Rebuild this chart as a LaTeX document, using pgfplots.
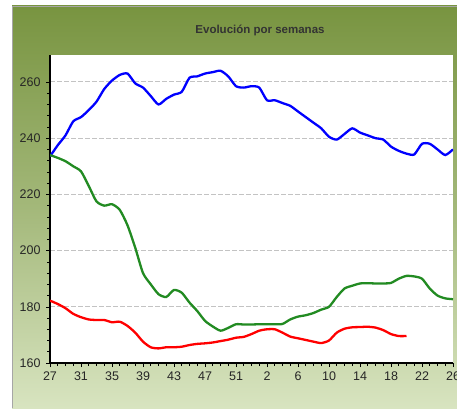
\documentclass[border=0pt]{standalone}
\usepackage{fontspec}
\setmainfont{Liberation Sans}
\usepackage{pgfplots}
\pgfplotsset{compat=1.18}
\definecolor{paneltop}{RGB}{120,148,64}
\definecolor{panelbot}{RGB}{216,228,192}
\definecolor{gridgray}{RGB}{195,195,195}
\definecolor{lgreen}{RGB}{34,139,34}
\begin{document}
\begin{tikzpicture}[x=1pt,y=1pt]
\useasboundingbox (0,0) rectangle (457,408);
\shade[top color=paneltop, bottom color=panelbot, middle color=paneltop!55!panelbot] (12,0) rectangle (457,402);
\draw[gray!70, line width=0.6pt] (12,0) -- (12,402) -- (457,402);
\fill[white] (50,45) rectangle (453,353);
\node[font=\bfseries\fontsize{11.5}{11.5}\selectfont, text=black!80] at (260,378) {Evolución por semanas};
\begin{axis}[
  at={(50pt,45pt)}, anchor=origin,
  scale only axis, width=403pt, height=308pt,
  xmin=0, xmax=52, ymin=160, ymax=269.6,
  axis x line*=bottom, axis y line*=left,
  axis line style={black, line width=1.3pt, -},
  xtick={0,4,...,52},
  xticklabels={27,31,35,39,43,47,51,2,6,10,14,18,22,26},
  minor x tick num=3,
  ytick={160,180,...,260},
  minor y tick num=4,
  tick align=outside,
  major tick length=4pt, minor tick length=3pt,
  tick style={black, line width=0.6pt},
  ymajorgrids,
  major grid style={gridgray, line width=1pt, dash pattern=on 5pt off 2pt},
  /pgf/number format/assume math mode=true,
  ticklabel style={font=\fontsize{12.5}{12.5}\selectfont, text=black!85},
  xticklabel style={yshift=-1pt},
  yticklabel style={xshift=-2pt},
  clip=true,
  axis background/.style={fill=white},
]
\addplot[blue, line width=2.3pt, smooth, tension=0.4] coordinates {
(0,233.5)(1,237.5)(2,241)(3,246)(4,247.5)(5,250)(6,253)(7,257.5)(8,260.5)(9,262.5)
(10,263)(11,259.5)(12,258)(13,255)(14,252)(15,254)(16,255.5)(17,256.5)(18,261.5)(19,262)
(20,263)(21,263.5)(22,264)(23,262)(24,258.5)(25,258)(26,258.5)(27,258)(28,253.5)(29,253.5)
(30,252.5)(31,251.5)(32,249.5)(33,247.5)(34,245.5)(35,243.5)(36,240.5)(37,239.5)(38,241.5)(39,243.5)
(40,242)(41,241)(42,240)(43,239.5)(44,237)(45,235.5)(46,234.5)(47,234.2)(48,238)(49,238)
(50,236)(51,234)(52,236)
};
\addplot[lgreen, line width=2.3pt, smooth, tension=0.4] coordinates {
(0,234)(1,233)(2,231.8)(3,230)(4,228.2)(5,223)(6,217.5)(7,216)(8,216.5)(9,214.5)
(10,209)(11,201)(12,192)(13,188)(14,184.5)(15,183.5)(16,186)(17,185)(18,181.5)(19,178.5)
(20,175)(21,173)(22,171.5)(23,172.5)(24,173.8)(25,173.7)(26,173.7)(27,173.8)(28,173.8)(29,173.8)
(30,173.9)(31,175.5)(32,176.5)(33,177)(34,177.8)(35,179)(36,180)(37,183.5)(38,186.5)(39,187.5)
(40,188.3)(41,188.4)(42,188.3)(43,188.3)(44,188.5)(45,190)(46,191)(47,190.8)(48,190)(49,186.5)
(50,184)(51,183)(52,182.7)
};
\addplot[red, line width=2.3pt, smooth, tension=0.4] coordinates {
(0,182.2)(1,181)(2,179.5)(3,177.5)(4,176.3)(5,175.5)(6,175.3)(7,175.3)(8,174.5)(9,174.7)
(10,173.2)(11,170.8)(12,167.6)(13,165.6)(14,165.2)(15,165.6)(16,165.6)(17,165.8)(18,166.4)(19,166.8)
(20,167)(21,167.3)(22,167.8)(23,168.3)(24,169)(25,169.3)(26,170.3)(27,171.5)(28,172)(29,172)
(30,170.8)(31,169.4)(32,168.8)(33,168.2)(34,167.6)(35,167.1)(36,168)(37,170.8)(38,172.2)(39,172.7)
(40,172.8)(41,172.9)(42,172.6)(43,171.7)(44,170.3)(45,169.6)(46,169.6)
};
\end{axis}
\end{tikzpicture}
\end{document}
